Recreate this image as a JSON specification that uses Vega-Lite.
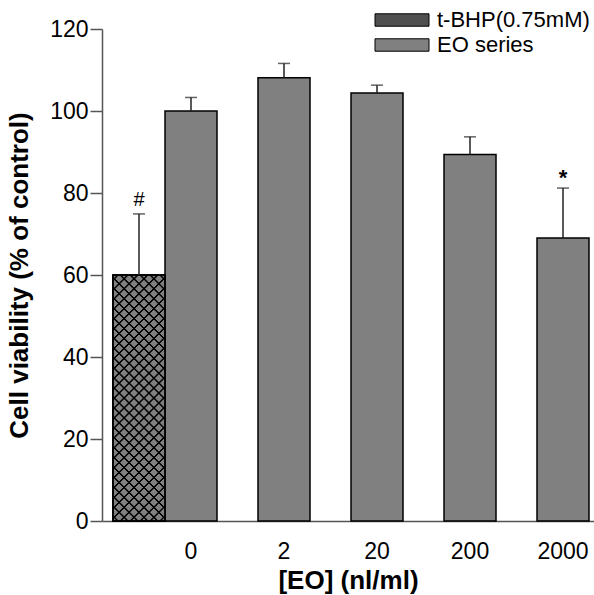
{
  "$schema": "https://vega.github.io/schema/vega-lite/v6.json",
  "width": 492,
  "height": 492,
  "autosize": {"type": "none"},
  "padding": {"left": 102, "top": 29, "right": 0, "bottom": 74},
  "background": "white",
  "config": {"view": {"stroke": null}, "font": "Liberation Sans"},
  "data": {"values": [
    {"group": "t-BHP(0.75mM)", "dose": "0", "viability": 60, "upper": 74.9, "sig": "#"},
    {"group": "EO series", "dose": "0", "viability": 100, "upper": 103.3, "sig": ""},
    {"group": "EO series", "dose": "2", "viability": 108.1, "upper": 111.6, "sig": ""},
    {"group": "EO series", "dose": "20", "viability": 104.4, "upper": 106.3, "sig": ""},
    {"group": "EO series", "dose": "200", "viability": 89.4, "upper": 93.7, "sig": ""},
    {"group": "EO series", "dose": "2000", "viability": 69.0, "upper": 81.2, "sig": "*"}
  ]},
  "encoding": {
    "x": {
      "field": "dose", "type": "nominal",
      "scale": {"domain": ["0", "2", "20", "200", "2000"], "paddingInner": 0.4409, "paddingOuter": 0.3656, "align": 0.9265},
      "title": "[EO] (nl/ml)",
      "axis": {"labelAngle": 0, "ticks": false, "tickSize": 0, "domainColor": "#555", "domainWidth": 1.5, "labelFontSize": 23, "labelColor": "#000", "labelPadding": 19, "titleFontSize": 26, "titleFontWeight": "bold", "titleColor": "#000", "titlePadding": 4}
    },
    "xOffset": {
      "field": "group", "type": "nominal",
      "scale": {"domain": ["t-BHP(0.75mM)", "EO series"], "range": [-52, 52], "paddingInner": 0, "paddingOuter": 0}
    },
    "y": {
      "field": "viability", "type": "quantitative",
      "scale": {"domain": [0, 120], "nice": false},
      "title": "Cell viability (% of control)",
      "axis": {"values": [0, 20, 40, 60, 80, 100, 120], "grid": false, "tickSize": 12, "tickColor": "#555", "tickWidth": 1.5, "domainColor": "#555", "domainWidth": 1.5, "labelFontSize": 23, "labelColor": "#000", "labelPadding": 2, "titleFontSize": 26, "titleFontWeight": "bold", "titleColor": "#000", "titlePadding": 17}
    }
  },
  "layer": [
    {
      "mark": {"type": "bar", "stroke": "#000", "strokeWidth": 1.5},
      "encoding": {
        "fill": {
          "field": "group", "type": "nominal",
          "scale": {"domain": ["t-BHP(0.75mM)", "EO series"], "range": ["#4f4f4f", "#808080"]},
          "legend": {"orient": "none", "legendX": 286, "legendY": -23, "title": null, "padding": 0, "symbolType": "M-2,-0.46H2V0.46H-2Z", "symbolSize": 729, "symbolStrokeColor": "#000", "symbolStrokeWidth": 1, "symbolOpacity": 1, "labelFontSize": 22, "labelLimit": 300, "labelColor": "#000", "labelOffset": 21, "rowPadding": -1}
        }
      }
    },
    {
      "transform": [{"filter": "datum.sig === '#'"}],
      "mark": {"type": "bar", "stroke": "#000", "strokeWidth": 1.5,
        "fill": {"gradient": "linear", "x1": 0, "y1": 0, "x2": 0.2451, "y2": 1.1597, "stops": [
          {"offset": 0, "color": "#808080"},
          {"offset": 0.0117, "color": "#808080"}, {"offset": 0.0147, "color": "#000"}, {"offset": 0.0187, "color": "#000"}, {"offset": 0.0217, "color": "#808080"},
          {"offset": 0.045, "color": "#808080"}, {"offset": 0.048, "color": "#000"}, {"offset": 0.052, "color": "#000"}, {"offset": 0.055, "color": "#808080"},
          {"offset": 0.0783, "color": "#808080"}, {"offset": 0.0813, "color": "#000"}, {"offset": 0.0853, "color": "#000"}, {"offset": 0.0883, "color": "#808080"},
          {"offset": 0.1117, "color": "#808080"}, {"offset": 0.1147, "color": "#000"}, {"offset": 0.1187, "color": "#000"}, {"offset": 0.1217, "color": "#808080"},
          {"offset": 0.145, "color": "#808080"}, {"offset": 0.148, "color": "#000"}, {"offset": 0.152, "color": "#000"}, {"offset": 0.155, "color": "#808080"},
          {"offset": 0.1783, "color": "#808080"}, {"offset": 0.1813, "color": "#000"}, {"offset": 0.1853, "color": "#000"}, {"offset": 0.1883, "color": "#808080"},
          {"offset": 0.2117, "color": "#808080"}, {"offset": 0.2147, "color": "#000"}, {"offset": 0.2187, "color": "#000"}, {"offset": 0.2217, "color": "#808080"},
          {"offset": 0.245, "color": "#808080"}, {"offset": 0.248, "color": "#000"}, {"offset": 0.252, "color": "#000"}, {"offset": 0.255, "color": "#808080"},
          {"offset": 0.2783, "color": "#808080"}, {"offset": 0.2813, "color": "#000"}, {"offset": 0.2853, "color": "#000"}, {"offset": 0.2883, "color": "#808080"},
          {"offset": 0.3117, "color": "#808080"}, {"offset": 0.3147, "color": "#000"}, {"offset": 0.3187, "color": "#000"}, {"offset": 0.3217, "color": "#808080"},
          {"offset": 0.345, "color": "#808080"}, {"offset": 0.348, "color": "#000"}, {"offset": 0.352, "color": "#000"}, {"offset": 0.355, "color": "#808080"},
          {"offset": 0.3783, "color": "#808080"}, {"offset": 0.3813, "color": "#000"}, {"offset": 0.3853, "color": "#000"}, {"offset": 0.3883, "color": "#808080"},
          {"offset": 0.4117, "color": "#808080"}, {"offset": 0.4147, "color": "#000"}, {"offset": 0.4187, "color": "#000"}, {"offset": 0.4217, "color": "#808080"},
          {"offset": 0.445, "color": "#808080"}, {"offset": 0.448, "color": "#000"}, {"offset": 0.452, "color": "#000"}, {"offset": 0.455, "color": "#808080"},
          {"offset": 0.4783, "color": "#808080"}, {"offset": 0.4813, "color": "#000"}, {"offset": 0.4853, "color": "#000"}, {"offset": 0.4883, "color": "#808080"},
          {"offset": 0.5117, "color": "#808080"}, {"offset": 0.5147, "color": "#000"}, {"offset": 0.5187, "color": "#000"}, {"offset": 0.5217, "color": "#808080"},
          {"offset": 0.545, "color": "#808080"}, {"offset": 0.548, "color": "#000"}, {"offset": 0.552, "color": "#000"}, {"offset": 0.555, "color": "#808080"},
          {"offset": 0.5783, "color": "#808080"}, {"offset": 0.5813, "color": "#000"}, {"offset": 0.5853, "color": "#000"}, {"offset": 0.5883, "color": "#808080"},
          {"offset": 0.6117, "color": "#808080"}, {"offset": 0.6147, "color": "#000"}, {"offset": 0.6187, "color": "#000"}, {"offset": 0.6217, "color": "#808080"},
          {"offset": 0.645, "color": "#808080"}, {"offset": 0.648, "color": "#000"}, {"offset": 0.652, "color": "#000"}, {"offset": 0.655, "color": "#808080"},
          {"offset": 0.6783, "color": "#808080"}, {"offset": 0.6813, "color": "#000"}, {"offset": 0.6853, "color": "#000"}, {"offset": 0.6883, "color": "#808080"},
          {"offset": 0.7117, "color": "#808080"}, {"offset": 0.7147, "color": "#000"}, {"offset": 0.7187, "color": "#000"}, {"offset": 0.7217, "color": "#808080"},
          {"offset": 0.745, "color": "#808080"}, {"offset": 0.748, "color": "#000"}, {"offset": 0.752, "color": "#000"}, {"offset": 0.755, "color": "#808080"},
          {"offset": 0.7783, "color": "#808080"}, {"offset": 0.7813, "color": "#000"}, {"offset": 0.7853, "color": "#000"}, {"offset": 0.7883, "color": "#808080"},
          {"offset": 0.8117, "color": "#808080"}, {"offset": 0.8147, "color": "#000"}, {"offset": 0.8187, "color": "#000"}, {"offset": 0.8217, "color": "#808080"},
          {"offset": 0.845, "color": "#808080"}, {"offset": 0.848, "color": "#000"}, {"offset": 0.852, "color": "#000"}, {"offset": 0.855, "color": "#808080"},
          {"offset": 0.8783, "color": "#808080"}, {"offset": 0.8813, "color": "#000"}, {"offset": 0.8853, "color": "#000"}, {"offset": 0.8883, "color": "#808080"},
          {"offset": 0.9117, "color": "#808080"}, {"offset": 0.9147, "color": "#000"}, {"offset": 0.9187, "color": "#000"}, {"offset": 0.9217, "color": "#808080"},
          {"offset": 0.945, "color": "#808080"}, {"offset": 0.948, "color": "#000"}, {"offset": 0.952, "color": "#000"}, {"offset": 0.955, "color": "#808080"},
          {"offset": 0.9783, "color": "#808080"}, {"offset": 0.9813, "color": "#000"}, {"offset": 0.9853, "color": "#000"}, {"offset": 0.9883, "color": "#808080"},
          {"offset": 1, "color": "#808080"}
        ]}
      }
    },
    {
      "transform": [{"filter": "datum.sig === '#'"}],
      "mark": {"type": "bar", "stroke": "#000", "strokeWidth": 1.5,
        "fill": {"gradient": "linear", "x1": 1, "y1": 0, "x2": 0.7549, "y2": 1.1597, "stops": [
          {"offset": 0, "color": "rgba(0,0,0,0)"},
          {"offset": 0.0117, "color": "rgba(0,0,0,0)"}, {"offset": 0.0147, "color": "#000"}, {"offset": 0.0187, "color": "#000"}, {"offset": 0.0217, "color": "rgba(0,0,0,0)"},
          {"offset": 0.045, "color": "rgba(0,0,0,0)"}, {"offset": 0.048, "color": "#000"}, {"offset": 0.052, "color": "#000"}, {"offset": 0.055, "color": "rgba(0,0,0,0)"},
          {"offset": 0.0783, "color": "rgba(0,0,0,0)"}, {"offset": 0.0813, "color": "#000"}, {"offset": 0.0853, "color": "#000"}, {"offset": 0.0883, "color": "rgba(0,0,0,0)"},
          {"offset": 0.1117, "color": "rgba(0,0,0,0)"}, {"offset": 0.1147, "color": "#000"}, {"offset": 0.1187, "color": "#000"}, {"offset": 0.1217, "color": "rgba(0,0,0,0)"},
          {"offset": 0.145, "color": "rgba(0,0,0,0)"}, {"offset": 0.148, "color": "#000"}, {"offset": 0.152, "color": "#000"}, {"offset": 0.155, "color": "rgba(0,0,0,0)"},
          {"offset": 0.1783, "color": "rgba(0,0,0,0)"}, {"offset": 0.1813, "color": "#000"}, {"offset": 0.1853, "color": "#000"}, {"offset": 0.1883, "color": "rgba(0,0,0,0)"},
          {"offset": 0.2117, "color": "rgba(0,0,0,0)"}, {"offset": 0.2147, "color": "#000"}, {"offset": 0.2187, "color": "#000"}, {"offset": 0.2217, "color": "rgba(0,0,0,0)"},
          {"offset": 0.245, "color": "rgba(0,0,0,0)"}, {"offset": 0.248, "color": "#000"}, {"offset": 0.252, "color": "#000"}, {"offset": 0.255, "color": "rgba(0,0,0,0)"},
          {"offset": 0.2783, "color": "rgba(0,0,0,0)"}, {"offset": 0.2813, "color": "#000"}, {"offset": 0.2853, "color": "#000"}, {"offset": 0.2883, "color": "rgba(0,0,0,0)"},
          {"offset": 0.3117, "color": "rgba(0,0,0,0)"}, {"offset": 0.3147, "color": "#000"}, {"offset": 0.3187, "color": "#000"}, {"offset": 0.3217, "color": "rgba(0,0,0,0)"},
          {"offset": 0.345, "color": "rgba(0,0,0,0)"}, {"offset": 0.348, "color": "#000"}, {"offset": 0.352, "color": "#000"}, {"offset": 0.355, "color": "rgba(0,0,0,0)"},
          {"offset": 0.3783, "color": "rgba(0,0,0,0)"}, {"offset": 0.3813, "color": "#000"}, {"offset": 0.3853, "color": "#000"}, {"offset": 0.3883, "color": "rgba(0,0,0,0)"},
          {"offset": 0.4117, "color": "rgba(0,0,0,0)"}, {"offset": 0.4147, "color": "#000"}, {"offset": 0.4187, "color": "#000"}, {"offset": 0.4217, "color": "rgba(0,0,0,0)"},
          {"offset": 0.445, "color": "rgba(0,0,0,0)"}, {"offset": 0.448, "color": "#000"}, {"offset": 0.452, "color": "#000"}, {"offset": 0.455, "color": "rgba(0,0,0,0)"},
          {"offset": 0.4783, "color": "rgba(0,0,0,0)"}, {"offset": 0.4813, "color": "#000"}, {"offset": 0.4853, "color": "#000"}, {"offset": 0.4883, "color": "rgba(0,0,0,0)"},
          {"offset": 0.5117, "color": "rgba(0,0,0,0)"}, {"offset": 0.5147, "color": "#000"}, {"offset": 0.5187, "color": "#000"}, {"offset": 0.5217, "color": "rgba(0,0,0,0)"},
          {"offset": 0.545, "color": "rgba(0,0,0,0)"}, {"offset": 0.548, "color": "#000"}, {"offset": 0.552, "color": "#000"}, {"offset": 0.555, "color": "rgba(0,0,0,0)"},
          {"offset": 0.5783, "color": "rgba(0,0,0,0)"}, {"offset": 0.5813, "color": "#000"}, {"offset": 0.5853, "color": "#000"}, {"offset": 0.5883, "color": "rgba(0,0,0,0)"},
          {"offset": 0.6117, "color": "rgba(0,0,0,0)"}, {"offset": 0.6147, "color": "#000"}, {"offset": 0.6187, "color": "#000"}, {"offset": 0.6217, "color": "rgba(0,0,0,0)"},
          {"offset": 0.645, "color": "rgba(0,0,0,0)"}, {"offset": 0.648, "color": "#000"}, {"offset": 0.652, "color": "#000"}, {"offset": 0.655, "color": "rgba(0,0,0,0)"},
          {"offset": 0.6783, "color": "rgba(0,0,0,0)"}, {"offset": 0.6813, "color": "#000"}, {"offset": 0.6853, "color": "#000"}, {"offset": 0.6883, "color": "rgba(0,0,0,0)"},
          {"offset": 0.7117, "color": "rgba(0,0,0,0)"}, {"offset": 0.7147, "color": "#000"}, {"offset": 0.7187, "color": "#000"}, {"offset": 0.7217, "color": "rgba(0,0,0,0)"},
          {"offset": 0.745, "color": "rgba(0,0,0,0)"}, {"offset": 0.748, "color": "#000"}, {"offset": 0.752, "color": "#000"}, {"offset": 0.755, "color": "rgba(0,0,0,0)"},
          {"offset": 0.7783, "color": "rgba(0,0,0,0)"}, {"offset": 0.7813, "color": "#000"}, {"offset": 0.7853, "color": "#000"}, {"offset": 0.7883, "color": "rgba(0,0,0,0)"},
          {"offset": 0.8117, "color": "rgba(0,0,0,0)"}, {"offset": 0.8147, "color": "#000"}, {"offset": 0.8187, "color": "#000"}, {"offset": 0.8217, "color": "rgba(0,0,0,0)"},
          {"offset": 0.845, "color": "rgba(0,0,0,0)"}, {"offset": 0.848, "color": "#000"}, {"offset": 0.852, "color": "#000"}, {"offset": 0.855, "color": "rgba(0,0,0,0)"},
          {"offset": 0.8783, "color": "rgba(0,0,0,0)"}, {"offset": 0.8813, "color": "#000"}, {"offset": 0.8853, "color": "#000"}, {"offset": 0.8883, "color": "rgba(0,0,0,0)"},
          {"offset": 0.9117, "color": "rgba(0,0,0,0)"}, {"offset": 0.9147, "color": "#000"}, {"offset": 0.9187, "color": "#000"}, {"offset": 0.9217, "color": "rgba(0,0,0,0)"},
          {"offset": 0.945, "color": "rgba(0,0,0,0)"}, {"offset": 0.948, "color": "#000"}, {"offset": 0.952, "color": "#000"}, {"offset": 0.955, "color": "rgba(0,0,0,0)"},
          {"offset": 0.9783, "color": "rgba(0,0,0,0)"}, {"offset": 0.9813, "color": "#000"}, {"offset": 0.9853, "color": "#000"}, {"offset": 0.9883, "color": "rgba(0,0,0,0)"},
          {"offset": 1, "color": "rgba(0,0,0,0)"}
        ]}
      }
    },
    {
      "mark": {"type": "rule", "color": "#222", "strokeWidth": 1.5},
      "encoding": {"y2": {"field": "upper"}}
    },
    {
      "mark": {"type": "tick", "color": "#222", "thickness": 1.5, "size": 12, "orient": "horizontal"},
      "encoding": {"y": {"field": "upper", "type": "quantitative"}}
    },
    {
      "transform": [{"filter": "datum.sig === '#'"}],
      "mark": {"type": "text", "fontSize": 20, "baseline": "bottom", "dy": -4, "color": "#000"},
      "encoding": {"y": {"field": "upper", "type": "quantitative"}, "text": {"field": "sig"}}
    },
    {
      "transform": [{"filter": "datum.sig === '*'"}],
      "mark": {"type": "text", "fontSize": 22, "fontWeight": "bold", "baseline": "bottom", "dy": 2, "color": "#000"},
      "encoding": {"y": {"field": "upper", "type": "quantitative"}, "text": {"field": "sig"}}
    }
  ]
}
